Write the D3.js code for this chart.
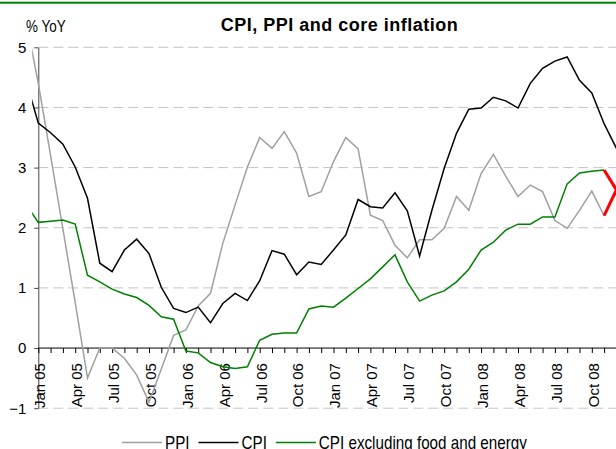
<!DOCTYPE html>
<html>
<head>
<meta charset="utf-8">
<script src="https://cdn.jsdelivr.net/npm/d3@7"></script>
<style>
  body { margin: 0; background: #fff; }
  svg { display: block; font-family: "Liberation Sans", Arial, sans-serif; }
</style>
</head>
<body>
<div id="chart"></div>
<script>
// Monthly categories, Dec 04 .. Dec 08 (Dec 04 only feeds the clipped first segment)
const months = d3.utcMonth
  .range(new Date(Date.UTC(2004, 11, 1)), new Date(Date.UTC(2009, 0, 1)))
  .map(d3.utcFormat("%b %y"));

const tickLabels = ["Jan 05", "Apr 05", "Jul 05", "Oct 05", "Jan 06", "Apr 06", "Jul 06", "Oct 06",
  "Jan 07", "Apr 07", "Jul 07", "Oct 07", "Jan 08", "Apr 08", "Jul 08", "Oct 08"];

const yTicks = [-1, 0, 1, 2, 3, 4, 5];

// % YoY
const cpi = [4.45,
  3.74, 3.58, 3.39, 3.01, 2.49, 1.41, 1.27, 1.63, 1.81, 1.57, 1.01, 0.66,
  0.59, 0.68, 0.42, 0.74, 0.91, 0.79, 1.12, 1.62, 1.56, 1.22, 1.43, 1.39,
  1.63, 1.88, 2.47, 2.35, 2.33, 2.58, 2.28, 1.53, 2.29, 2.99, 3.57, 3.97,
  3.99, 4.17, 4.11, 3.99, 4.40, 4.65, 4.77, 4.84, 4.45, 4.24, 3.73, 3.32];

const ppi = [5.45,
  4.40, 3.20, 1.98, 0.76, -0.50, 0.00, 0.00, -0.17, -0.45, -0.90, -0.35, 0.21,
  0.30, 0.70, 0.91, 1.74, 2.38, 3.01, 3.50, 3.32, 3.60, 3.24, 2.52, 2.60,
  3.10, 3.50, 3.31, 2.21, 2.12, 1.71, 1.50, 1.80, 1.80, 1.99, 2.52, 2.29,
  2.90, 3.22, 2.86, 2.52, 2.71, 2.60, 2.12, 1.99, 2.29, 2.61, 2.20];

const core = [2.39,
  2.09, 2.11, 2.13, 2.06, 1.21, 1.10, 0.98, 0.90, 0.84, 0.71, 0.52, 0.48,
  -0.05, -0.08, -0.24, -0.31, -0.34, -0.31, 0.13, 0.23, 0.25, 0.25, 0.65, 0.70,
  0.68, 0.83, 0.99, 1.15, 1.35, 1.55, 1.10, 0.78, 0.88, 0.95, 1.10, 1.31,
  1.63, 1.76, 1.96, 2.06, 2.06, 2.18, 2.18, 2.73, 2.91, 2.94, 2.96];

// red last step (Nov 08 -> Dec 08)
const forecastMonths = ["Nov 08", "Dec 08"];
const ppiForecast = [2.20, 2.63];
const coreForecast = [2.96, 2.63];

const legendNames = ["PPI", "CPI", "CPI excluding food and energy"];
const legendColors = ["#a0a0a0", "#000000", "#008000"];

(function() {
  const width = 616;
  const height = 449;

  const x = d3.scalePoint()
    .domain(months)
    .range([26.0, 616.4]);

  const y = d3.scaleLinear()
    .domain([-1, 5])
    .range([408.2, 47.3]);

  const x0 = x("Jan 05");

  const svg = d3.select("#chart")
    .append("svg")
    .attr("width", width)
    .attr("height", height)
    .attr("viewBox", [0, 0, width, height]);

  // green rule at the top
  svg.append("rect")
    .attr("x", 0).attr("y", 1.7)
    .attr("width", width).attr("height", 2)
    .attr("fill", "#008000");

  // title
  svg.append("text")
    .attr("x", 339.5)
    .attr("y", 31)
    .attr("text-anchor", "middle")
    .style("font-size", "18px")
    .style("font-weight", "bold")
    .style("letter-spacing", "0.5px")
    .text("CPI, PPI and core inflation");

  svg.append("text")
    .attr("transform", "translate(26,32) scale(0.84,1)")
    .style("font-size", "16px")
    .text("% YoY");

  // dashed grid
  svg.append("g")
    .selectAll("line")
    .data(yTicks.filter(d => d !== 0))
    .join("line")
    .attr("x1", x0)
    .attr("x2", width)
    .attr("y1", d => y(d))
    .attr("y2", d => y(d))
    .attr("stroke", "#c4c4c4")
    .attr("stroke-dasharray", "10,5");

  // y axis
  svg.append("g")
    .attr("transform", `translate(${x0},0)`)
    .call(d3.axisLeft(y).tickValues(yTicks).tickSize(4).tickSizeOuter(0).tickPadding(8).tickFormat(d3.format("d")))
    .call(g => g.selectAll("path,line").attr("stroke", "#444"))
    .call(g => g.selectAll("text")
      .attr("fill", "#000")
      .style("font-size", "15px")
      .style("font-family", "'Liberation Sans', Arial, sans-serif"));

  // x axis at zero
  svg.append("g")
    .attr("transform", `translate(0,${y(0)})`)
    .call(d3.axisBottom(x)
      .tickValues(months.slice(1))
      .tickSize(5)
      .tickSizeOuter(0)
      .tickFormat(d => tickLabels.includes(d) ? d : ""))
    .call(g => g.select(".domain").remove())
    .call(g => g.selectAll(".tick line").attr("stroke", "#000"))
    .call(g => g.selectAll("text")
      .attr("transform", "rotate(-90)")
      .attr("text-anchor", "end")
      .attr("x", -15)
      .attr("y", 0)
      .attr("dy", "0.42em")
      .attr("fill", "#000")
      .style("font-size", "15px")
      .style("font-family", "'Liberation Sans', Arial, sans-serif"));

  svg.append("line")
    .attr("x1", x0).attr("x2", width)
    .attr("y1", y(0)).attr("y2", y(0))
    .attr("stroke", "#000");

  // clip: plot area starts half a month before Jan 05
  svg.append("clipPath")
    .attr("id", "plot-clip")
    .append("rect")
    .attr("x", x0 - x.step() / 2)
    .attr("y", 0)
    .attr("width", width)
    .attr("height", height);

  const line = d3.line()
    .x((d, i) => x(months[i]))
    .y(d => y(d));

  const plot = svg.append("g").attr("clip-path", "url(#plot-clip)");

  plot.append("path")
    .datum(ppi)
    .attr("fill", "none")
    .attr("stroke", legendColors[0])
    .attr("stroke-width", 1.5)
    .attr("d", line);

  plot.append("path")
    .datum(cpi)
    .attr("fill", "none")
    .attr("stroke", legendColors[1])
    .attr("stroke-width", 1.5)
    .attr("d", line);

  plot.append("path")
    .datum(core)
    .attr("fill", "none")
    .attr("stroke", legendColors[2])
    .attr("stroke-width", 1.5)
    .attr("d", line);

  const redLine = d3.line()
    .x((d, i) => x(forecastMonths[i]))
    .y(d => y(d));

  for (const f of [ppiForecast, coreForecast]) {
    plot.append("path")
      .datum(f)
      .attr("fill", "none")
      .attr("stroke", "#ff0000")
      .attr("stroke-width", 3)
      .attr("d", redLine);
  }

  // legend
  const squeeze = 0.845;
  let lx = 122;
  legendNames.forEach((name, i) => {
    svg.append("line")
      .attr("x1", lx).attr("x2", lx + 40)
      .attr("y1", 442.5).attr("y2", 442.5)
      .attr("stroke", legendColors[i])
      .attr("stroke-width", 1.5);
    const t = svg.append("text")
      .attr("transform", `translate(${lx + 43},448.5) scale(${squeeze},1)`)
      .style("font-size", "18px")
      .text(name);
    lx += 43 + t.node().getComputedTextLength() * squeeze + 9;
  });
})();
</script>
</body>
</html>
